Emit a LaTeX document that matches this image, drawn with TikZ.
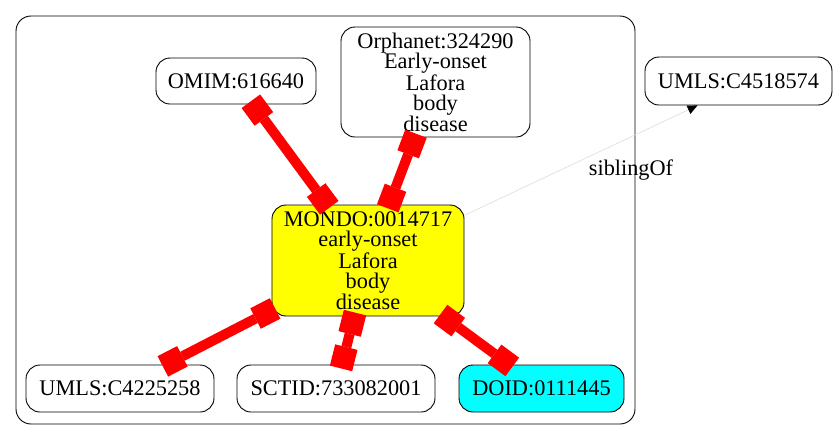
\documentclass[tikz,border=0pt]{standalone}
\usepackage{fontspec}
\setmainfont{Liberation Serif}
\usetikzlibrary{arrows.meta}
\definecolor{gvyellow}{RGB}{255,255,0}
\definecolor{gvcyan}{RGB}{0,255,255}
\definecolor{gvred}{RGB}{255,0,0}
\definecolor{gvgray}{RGB}{220,220,220}
\begin{document}
\begin{tikzpicture}[x=1pt,y=-1pt,
  box/.style={draw=black, line width=0.9pt, rounded corners=14pt, align=center, inner sep=0pt, font=\fontsize{22.3}{20.5}\selectfont},
  rel/.style={draw=gvred, line width=10pt, {Square[length=22pt,width=23pt,line width=0pt]}-{Square[length=22pt,width=23pt,line width=0pt]}, shorten <=-4pt, shorten >=-4pt},
  sib/.style={draw=gvgray, line width=0.6pt, -{Triangle[length=10pt,width=9pt,color=black]}},
  lbl/.style={font=\fontsize{22.3}{20.5}\selectfont, inner sep=0pt},
  cluster/.style={draw=black, line width=0.9pt, rounded corners=15pt}
]
\useasboundingbox (0,0) rectangle (837,440);
\draw[cluster] (16,16) rectangle (635,424);

\node[box, minimum width=160pt, minimum height=46pt] (omim) at (236,81) {OMIM:616640};
\node[box, minimum width=189pt, minimum height=110pt] (orpha) at (435.5,82) {Orphanet:324290\\Early-onset\\Lafora\\body\\disease};
\node[box, minimum width=187pt, minimum height=48pt] (umlsb) at (738.5,81) {UMLS:C4518574};
\node[box, fill=gvyellow, minimum width=192pt, minimum height=111pt] (mondo) at (368,260.5) {MONDO:0014717\\early-onset\\Lafora\\body\\disease};
\node[box, minimum width=188pt, minimum height=47pt] (umlsa) at (120,388.5) {UMLS:C4225258};
\node[box, minimum width=198pt, minimum height=47pt] (sctid) at (336,388.5) {SCTID:733082001};
\node[box, fill=gvcyan, minimum width=165pt, minimum height=47pt] (doid) at (541.5,388.5) {DOID:0111445};

\draw[rel] (omim) -- (mondo);
\draw[rel] (orpha) -- (mondo);
\draw[rel] (mondo) -- (umlsa);
\draw[rel] (mondo) -- (sctid);
\draw[rel] (mondo) -- (doid);

\path (umlsb.south) ++(-41,0) coordinate (sibend);
\draw[sib] (mondo) -- (sibend);
\node[lbl] (siblbl) at (631,170) {siblingOf};
\end{tikzpicture}
\end{document}
